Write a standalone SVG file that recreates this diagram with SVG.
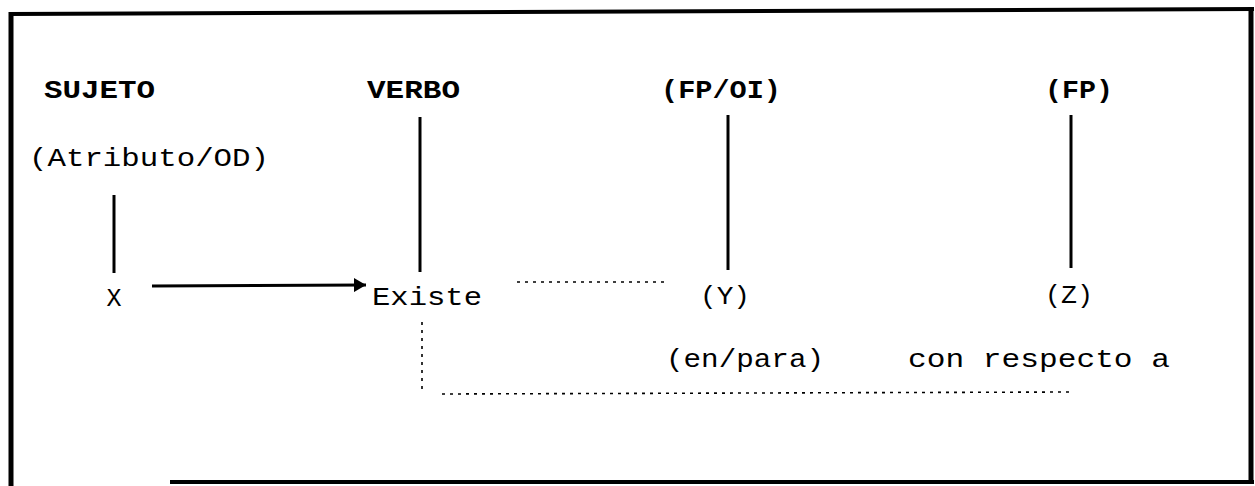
<svg xmlns="http://www.w3.org/2000/svg" width="1255" height="486" viewBox="0 0 1255 486">
  <style>
    .lbl { font-family: "Liberation Mono", "Courier New", monospace; font-size: 25px; fill: #000; lengthAdjust: spacingAndGlyphs; }
    .head { font-weight: bold; }
    .solid { stroke: #000; stroke-width: 3; fill: none; stroke-linecap: butt; }
    .dots { stroke: #000; stroke-width: 1.6; fill: none; stroke-dasharray: 3 5; }
    .frame { stroke: #000; fill: none; }
  </style>
  <defs>
    <marker id="arrowhead" viewBox="0 0 12 14" refX="12" refY="7" markerWidth="12" markerHeight="14" markerUnits="userSpaceOnUse" orient="auto">
      <path d="M0,0 L12,7 L0,14 Z" fill="#000"/>
    </marker>
  </defs>

  <rect width="1255" height="486" fill="#fff"/>

  <!-- outer frame -->
  <g id="frame">
    <line class="frame" x1="11" y1="12" x2="11" y2="486" stroke-width="5"/>
    <line class="frame" x1="9" y1="14" x2="1254" y2="9" stroke-width="4"/>
    <line class="frame" x1="1251" y1="7" x2="1251" y2="484" stroke-width="5"/>
    <line class="frame" x1="170" y1="482" x2="1254" y2="482" stroke-width="4"/>
  </g>

  <!-- column headings -->
  <g id="sujeto">
    <text class="lbl head" x="44" y="98" textLength="111" lengthAdjust="spacingAndGlyphs">SUJETO</text>
    <text class="lbl" x="29" y="166" textLength="240" lengthAdjust="spacingAndGlyphs">(Atributo/OD)</text>
  </g>
  <g id="verbo">
    <text class="lbl head" x="367" y="98" textLength="93" lengthAdjust="spacingAndGlyphs">VERBO</text>
  </g>
  <g id="fp-oi">
    <text class="lbl head" x="661" y="98" textLength="120" lengthAdjust="spacingAndGlyphs">(FP/OI)</text>
  </g>
  <g id="fp">
    <text class="lbl head" x="1045" y="98" textLength="68" lengthAdjust="spacingAndGlyphs">(FP)</text>
  </g>

  <!-- row of arguments -->
  <g id="x">
    <text class="lbl" x="114" y="306" text-anchor="middle">X</text>
  </g>
  <g id="existe">
    <text class="lbl" x="372" y="305" textLength="110" lengthAdjust="spacingAndGlyphs">Existe</text>
  </g>
  <g id="y">
    <text class="lbl" x="700" y="304" textLength="50" lengthAdjust="spacingAndGlyphs">(Y)</text>
  </g>
  <g id="z">
    <text class="lbl" x="1045" y="303" textLength="48" lengthAdjust="spacingAndGlyphs">(Z)</text>
  </g>
  <g id="en-para">
    <text class="lbl" x="666" y="367" textLength="158" lengthAdjust="spacingAndGlyphs">(en/para)</text>
  </g>
  <g id="con-respecto">
    <text class="lbl" x="908" y="367" textLength="262" lengthAdjust="spacingAndGlyphs">con respecto a</text>
  </g>

  <!-- connectors -->
  <g id="connectors">
    <line class="solid" x1="114" y1="195" x2="114" y2="273"/>
    <line class="solid" x1="420" y1="117" x2="420" y2="272"/>
    <line class="solid" x1="728" y1="115" x2="728" y2="270"/>
    <line class="solid" x1="1071" y1="115" x2="1071" y2="268"/>
    <line class="solid" x1="152" y1="286" x2="366" y2="285" marker-end="url(#arrowhead)"/>
    <line class="dots" x1="517" y1="282" x2="666" y2="282"/>
    <line class="dots" x1="422" y1="322" x2="422" y2="394"/>
    <line class="dots" x1="442" y1="394" x2="1069" y2="392"/>
  </g>
</svg>
